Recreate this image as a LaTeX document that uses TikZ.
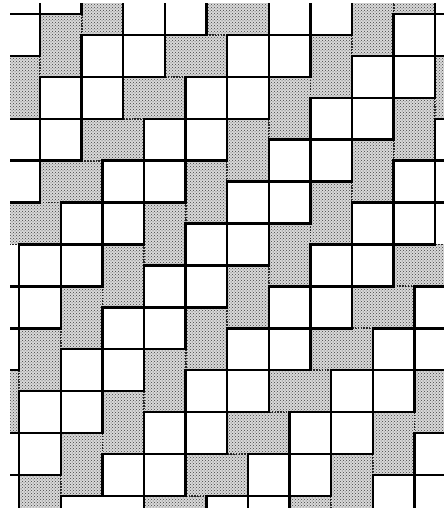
\documentclass[tikz,border=0pt]{standalone}
\usetikzlibrary{patterns}
\begin{document}
\begin{tikzpicture}[x=20.8pt,y=-20.95pt,
  tile/.style={draw=black,line width=2.5pt,fill=white},
  shd/.style={fill=gray!30,postaction={pattern=crosshatch dots,pattern color=black!75}},
  shdedge/.style={draw=black!85,line width=1.8pt,dash pattern=on 1.4pt off 1.4pt}]
\useasboundingbox (-1.9231,-0.6683) rectangle (19.5673,23.6754);
\begin{scope}
\clip (-1.442,-0.525) rectangle (19.423,23.532);
% shaded upright rectangles (diagonal chains)
\foreach \s/\lst in {0/{-2,0,2}, 14/{-3,-1,...,17}, 21/{-1,1,...,19}, 35/{12,14,16,18}} {
  \foreach \x in \lst {
    \path[shd] ({\x},{\s-\x}) rectangle ++(2,3);
    \draw[shdedge] ({\x},{\s-\x}) rectangle ++(2,3);
  }
}
% shaded lying rectangles (diagonal chains)
\foreach \s/\lst in {7/{-2,0,...,8}, 28/{5,7,...,17}} {
  \foreach \a in \lst {
    \path[shd] ({\a},{\s-\a}) rectangle ++(3,2);
    \draw[shdedge] ({\a},{\s-\a}) rectangle ++(3,2);
  }
}
% white squares
\foreach \p in {(-2,0),(-2,-2),(0,-2)} \draw[tile] \p rectangle ++(2,2);
\foreach \e in {-2,0,...,6} {
  \draw[tile] ({\e},{3-\e}) rectangle ++(2,2);
  \draw[tile] ({\e},{5-\e}) rectangle ++(2,2);
}
\foreach \c in {-3,-1,...,13} {
  \draw[tile] ({\c},{10-\c}) rectangle ++(2,2);
  \draw[tile] ({\c},{12-\c}) rectangle ++(2,2);
}
\foreach \c in {-3,-1,...,19} {
  \draw[tile] ({\c},{17-\c}) rectangle ++(2,2);
  \draw[tile] ({\c},{19-\c}) rectangle ++(2,2);
}
\foreach \c in {5,7,...,19} {
  \draw[tile] ({\c},{24-\c}) rectangle ++(2,2);
  \draw[tile] ({\c},{26-\c}) rectangle ++(2,2);
}
\draw[tile] (3,21) rectangle ++(2,2);
\draw[tile] (1,23) rectangle (5,25);
\foreach \e in {8,10,...,18} {
  \draw[tile] ({\e},{31-\e}) rectangle ++(2,2);
  \draw[tile] ({\e},{33-\e}) rectangle ++(2,2);
}
\foreach \e in {16,18} {
  \draw[tile] ({\e},{38-\e}) rectangle ++(2,2);
  \draw[tile] ({\e},{40-\e}) rectangle ++(2,2);
}
\end{scope}
\end{tikzpicture}
\end{document}
